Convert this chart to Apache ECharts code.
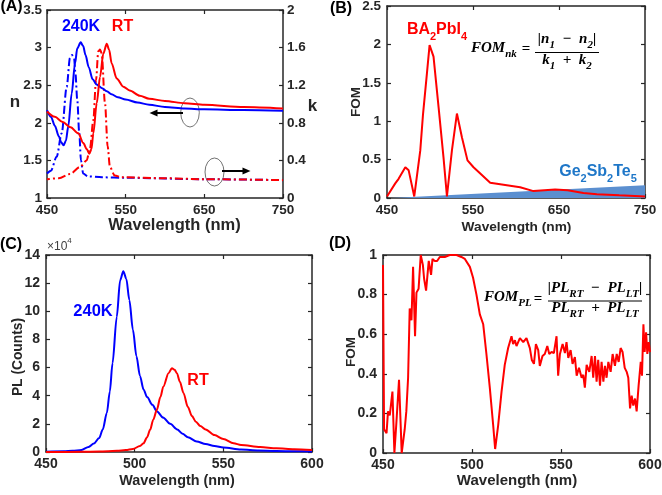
<!DOCTYPE html>
<html><head><meta charset="utf-8">
<script src="https://cdn.jsdelivr.net/npm/echarts@6/dist/echarts.min.js"></script>
<style>html,body{margin:0;padding:0;background:#fff}#c{width:662px;height:495px}</style>
</head><body><div id="c"></div>
<script>
// ---------------- Panel A : n and k ----------------
const aTicksX = [450, 550, 650, 750];
const aTicksN = [1, 1.5, 2, 2.5, 3, 3.5];
const aTicksK = [0, 0.4, 0.8, 1.2, 1.6, 2];
const aWlN240 = [450, 455, 460, 465, 468, 471, 474, 477, 481.4, 485.6, 488.5, 492.8, 496, 499, 503, 508, 513, 520, 526, 532, 540, 550, 565, 580, 600, 625, 650, 700, 750];
const aN240   = [2.17, 2.08, 1.96, 1.82, 1.74, 1.70, 1.76, 1.95, 2.39, 2.79, 2.99, 3.07, 3.02, 2.90, 2.74, 2.58, 2.51, 2.46, 2.42, 2.38, 2.34, 2.31, 2.27, 2.24, 2.21, 2.19, 2.18, 2.17, 2.16];
const aWlNRT  = [450, 460, 470, 480, 489.8, 496.2, 500.5, 503.8, 506.5, 508.9, 513.2, 517.4, 521.6, 525.9, 529, 532.2, 538.6, 547, 555, 568, 580, 600, 625, 650, 700, 750];
const aNRT    = [2.15, 2.08, 2.01, 1.94, 1.86, 1.73, 1.65, 1.59, 1.65, 1.86, 2.26, 2.61, 2.92, 3.05, 2.97, 2.79, 2.59, 2.48, 2.43, 2.36, 2.32, 2.29, 2.26, 2.24, 2.21, 2.19];
const aWlK240 = [450, 455, 462.3, 468.7, 475, 479.2, 481.8, 484.4, 486.1, 488.5, 491, 493.2, 496, 502, 520, 550, 650, 750];
const aK240   = [0.26, 0.29, 0.44, 0.69, 1.18, 1.49, 1.52, 1.49, 1.33, 1.04, 0.69, 0.40, 0.26, 0.23, 0.22, 0.215, 0.20, 0.19];
const aWlKRT  = [450, 465, 479.2, 492, 500.4, 504.7, 508.9, 512.3, 515.2, 517.4, 519.5, 523.7, 527.1, 530, 536, 545, 600, 650, 750];
const aKRT    = [0.20, 0.21, 0.255, 0.33, 0.40, 0.53, 0.83, 1.255, 1.56, 1.58, 1.54, 1.01, 0.55, 0.33, 0.24, 0.22, 0.21, 0.20, 0.19];

// ---------------- Panel B : FOM_nk ----------------
const bTicksX = [450, 550, 650, 750];
const bTicksY = [0, 0.5, 1, 1.5, 2, 2.5];
const bWlBA  = [450, 452, 459.6, 463.5, 471.3, 475.2, 481.7, 488.7, 491.8, 496.4, 499.5, 504.1, 510, 515.7, 519.7, 525.5, 531.3, 537.1, 543.6, 550.6, 570, 604.8, 620.3, 645.5, 660, 678.4, 694, 720, 750];
const bFomBA = [0.02, 0.02, 0.19, 0.25, 0.40, 0.36, 0.02, 0.62, 1.08, 1.62, 1.99, 1.84, 1.18, 0.53, 0.02, 0.62, 1.10, 0.79, 0.49, 0.40, 0.20, 0.14, 0.09, 0.11, 0.10, 0.065, 0.05, 0.035, 0.02];
const bWlGST  = [455, 750];
const bFomGST = [0, 0.165];

// ---------------- Panel C : PL ----------------
const cTicksX = [450, 500, 550, 600];
const cTicksY = [0, 2, 4, 6, 8, 10, 12, 14];
const cWl240 = [450, 460, 465, 470, 474, 477, 480, 482, 484.3, 486, 487.5, 489.9, 491.8, 493.6, 495.3, 497, 499, 501, 503, 505, 507, 510, 512.5, 516, 520, 524, 527, 530, 535, 540, 545, 550, 560, 570, 580, 590, 600];
const cPL240 = [0.02, 0.05, 0.08, 0.15, 0.35, 0.6, 1.0, 1.6, 2.77, 4.3, 6.3, 9.6, 12.2, 12.85, 12.3, 10.8, 8.7, 6.8, 5.4, 4.45, 3.9, 3.35, 2.9, 2.45, 2.0, 1.6, 1.3, 1.05, 0.75, 0.57, 0.43, 0.32, 0.18, 0.11, 0.07, 0.05, 0.04];
const cWlRT = [450, 470, 480, 490, 495, 499, 503, 505, 507, 508.7, 510.5, 512.5, 514.5, 516.2, 519.1, 521, 522.5, 523.8, 525.5, 527.5, 530, 532.3, 534.5, 537, 540, 545, 550, 555.8, 560, 570.8, 580, 590, 600];
const cPLRT = [0.0, 0.01, 0.03, 0.08, 0.14, 0.22, 0.42, 0.62, 1.05, 1.58, 2.3, 3.0, 3.9, 4.66, 5.6, 5.96, 5.85, 5.6, 5.0, 4.2, 3.2, 2.55, 2.15, 1.85, 1.6, 1.2, 0.92, 0.62, 0.5, 0.35, 0.27, 0.2, 0.15];

// ---------------- Panel D : FOM_PL ----------------
const dTicksX = [450, 500, 550, 600];
const dTicksY = [0, 0.2, 0.4, 0.6, 0.8, 1];
const dWl  = [450, 450.6, 452, 452.8, 453.8, 455.3, 456.4, 457.5, 458.2, 459, 460.5, 462.2, 463.1, 464.1, 465, 466, 466.9, 468, 468.8, 470, 471.2, 472.4, 473.1, 474.2, 475.7, 477, 477.8, 479.1, 480.4, 481.9, 484.7, 487.5, 491.3, 494, 496, 498.8, 500.6, 502.5, 504.4, 506.3, 508.1, 510, 511.9, 513, 514.7, 516.6, 518.4, 520.3, 522.2, 523.1, 524.1, 525, 526.9, 528.8, 530.6, 532.5, 533.6, 534.8, 535.9, 537.2, 538.1, 539.6, 540.9, 542.3, 543.4, 544.7, 546, 547.5, 548.4, 549.4, 550.9, 552.2, 553.1, 554.1, 555.4, 556.5, 557.8, 558.8, 560.1, 561.6, 562.5, 563.4, 564.4, 565.9, 567.2, 568.1, 569.1, 570, 570.9, 571.9, 572.8, 573.8, 574.7, 575.6, 576.6, 577.9, 579, 580.3, 581.3, 582.4, 583.5, 584.6, 585.8, 586.9, 587.8, 588.8, 589.7, 590.6, 591.6, 592.5, 593.6, 594.8, 595.5, 596.3, 597, 597.8, 598.5, 599.3, 600];
const dFom = [0.95, 0.12, 0.10, 0.21, 0.19, 0.31, 0.0, 0.15, 0.14, 0.37, 0.0, 0.12, 0.21, 0.38, 0.73, 0.67, 0.94, 0.59, 0.81, 0.83, 1.0, 0.95, 0.88, 0.82, 0.97, 0.90, 0.98, 0.97, 0.97, 0.99, 0.99, 1.0, 1.0, 0.99, 0.98, 0.94, 0.885, 0.80, 0.70, 0.65, 0.50, 0.33, 0.14, 0.02, 0.14, 0.31, 0.445, 0.53, 0.59, 0.55, 0.57, 0.54, 0.58, 0.56, 0.58, 0.53, 0.47, 0.45, 0.55, 0.52, 0.44, 0.49, 0.50, 0.54, 0.50, 0.51, 0.505, 0.59, 0.39, 0.50, 0.55, 0.505, 0.56, 0.48, 0.52, 0.45, 0.485, 0.39, 0.43, 0.38, 0.395, 0.33, 0.445, 0.41, 0.49, 0.38, 0.49, 0.36, 0.47, 0.34, 0.46, 0.36, 0.44, 0.38, 0.46, 0.41, 0.50, 0.44, 0.50, 0.46, 0.53, 0.51, 0.43, 0.41, 0.38, 0.225, 0.29, 0.24, 0.275, 0.21, 0.34, 0.46, 0.39, 0.65, 0.51, 0.61, 0.50, 0.56, 0.51];

// ---------------- helpers ----------------
const zip = (xs, ys) => xs.map((x, i) => [x, ys[i]]);
const AXC = '#262626';
const SANS = 'Liberation Sans, Arial, sans-serif';
const SERIF = 'Liberation Serif, Times New Roman, serif';
const RED = '#ff0000', BLUE = '#0000ff';
const EN = '\u2002';

function axis(gridIndex, ticks, position, showLabel, fs, margin) {
  return {
    type: 'value', gridIndex, position,
    min: ticks[0], max: ticks[ticks.length - 1], interval: ticks[1] - ticks[0],
    axisLine: { show: true, onZero: false, lineStyle: { color: AXC, width: 1.5 } },
    axisTick: { show: true, inside: true, length: 4, lineStyle: { color: AXC, width: 1.2 } },
    axisLabel: { show: showLabel, color: AXC, fontWeight: 'bold', fontSize: fs, fontFamily: SANS, margin: margin, showMinLabel: true, showMaxLabel: true },
    splitLine: { show: false }
  };
}
function line(xi, yi, data, color, opts) {
  return Object.assign({
    type: 'line', xAxisIndex: xi, yAxisIndex: yi, data, symbol: 'none', showSymbol: false,
    lineStyle: { color, width: 2 }, itemStyle: { color }, silent: true
  }, opts || {});
}
// rich text helper: {m|..} main, {s|..} subscript, {b|..}/{p|..} base + superscript
function rich(F, family, weight, fstyle, color, subDrop) {
  const s = Math.round(F * 0.7);
  return {
    m: { fontSize: F, lineHeight: F + 4, fontFamily: family, fontWeight: weight, fontStyle: fstyle, fill: color, color, verticalAlign: 'top' },
    s: { fontSize: s, lineHeight: s, padding: [F + subDrop - s, 0, 0, 0], fontFamily: family, fontWeight: weight, fontStyle: fstyle, fill: color, color, verticalAlign: 'bottom' },
    b: { fontSize: F, lineHeight: F + 4, fontFamily: family, fontWeight: weight, fontStyle: fstyle, fill: color, color, verticalAlign: 'bottom' },
    p: { fontSize: s, lineHeight: s, padding: [0, 0, F + 2 - s, 0], fontFamily: family, fontWeight: weight, fontStyle: fstyle, fill: color, color, verticalAlign: 'top' }
  };
}
function txt(x, y, text, F, color, opts) {
  opts = opts || {};
  const family = opts.family || SANS, weight = opts.weight || 'bold', fstyle = opts.fstyle || 'normal';
  return {
    type: 'text', x, y, rotation: opts.rotation || 0, silent: true,
    style: {
      text, fill: color, fontSize: F, fontFamily: family, fontWeight: weight, fontStyle: fstyle,
      align: opts.align || 'center', verticalAlign: 'middle',
      rich: rich(F, family, weight, fstyle, color, opts.subDrop == null ? 4 : opts.subDrop)
    }
  };
}
function hline(x1, x2, y, w, color) {
  return { type: 'line', silent: true, shape: { x1, y1: y, x2, y2: y }, style: { stroke: color || '#000', lineWidth: w || 1 } };
}
function ellipse(cx, cy, rx, ry) {
  return { type: 'circle', silent: true, x: cx, y: cy, scaleX: rx / ry, shape: { cx: 0, cy: 0, r: ry }, style: { fill: 'none', stroke: '#555', lineWidth: 1, strokeNoScale: true } };
}
function arrowHead(tx, ty, dir) {
  return { type: 'polygon', silent: true, shape: { points: [[tx, ty], [tx - dir * 8, ty - 3.5], [tx - dir * 8, ty + 3.5]] }, style: { fill: '#000' } };
}

const DASHDOT = [8, 3, 2, 3];
const FM = { family: SERIF, fstyle: 'italic', subDrop: 3 };

const option = {
  animation: false,
  backgroundColor: '#fff',
  grid: [
    { left: 47, top: 10, width: 236, height: 188, outerBoundsMode: 'none', containLabel: false },
    { left: 387, top: 6, width: 258, height: 192, outerBoundsMode: 'none', containLabel: false },
    { left: 46, top: 255, width: 266, height: 197, outerBoundsMode: 'none', containLabel: false },
    { left: 383, top: 255, width: 267, height: 198, outerBoundsMode: 'none', containLabel: false }
  ],
  xAxis: [
    axis(0, aTicksX, 'bottom', true, 13.5, 5), axis(0, aTicksX, 'top', false, 13, 5),
    axis(1, bTicksX, 'bottom', true, 13.5, 5), axis(1, bTicksX, 'top', false, 13, 5),
    axis(2, cTicksX, 'bottom', true, 14, 5), axis(2, cTicksX, 'top', false, 13, 5),
    axis(3, dTicksX, 'bottom', true, 14, 5), axis(3, dTicksX, 'top', false, 13, 5)
  ],
  yAxis: [
    axis(0, aTicksN, 'left', true, 13.5, 5), axis(0, aTicksK, 'right', true, 13.5, 4),
    axis(1, bTicksY, 'left', true, 13.5, 6), axis(1, bTicksY, 'right', false, 13, 5),
    axis(2, cTicksY, 'left', true, 14, 6), axis(2, cTicksY, 'right', false, 13, 5),
    axis(3, dTicksY, 'left', true, 14, 6), axis(3, dTicksY, 'right', false, 13, 5)
  ],
  series: [
    // A
    line(0, 1, zip(aWlK240, aK240), BLUE, { smooth: 0.3, smoothMonotone: 'x', lineStyle: { color: BLUE, width: 2, type: DASHDOT } }),
    line(0, 1, zip(aWlKRT, aKRT), RED, { smooth: 0.3, smoothMonotone: 'x', lineStyle: { color: RED, width: 2, type: DASHDOT, dashOffset: 5 } }),
    line(0, 0, zip(aWlN240, aN240), BLUE, { smooth: 0.3, smoothMonotone: 'x' }),
    line(0, 0, zip(aWlNRT, aNRT), RED, { smooth: 0.3, smoothMonotone: 'x' }),
    // B
    line(2, 2, zip(bWlGST, bFomGST), '#5b8fd0', { lineStyle: { width: 0, opacity: 0 }, areaStyle: { color: '#5b8fd0', opacity: 1 }, z: 1 }),
    line(2, 2, zip(bWlBA, bFomBA), RED, { z: 3 }),
    // C
    line(4, 4, zip(cWl240, cPL240), BLUE, { smooth: 0.3, smoothMonotone: 'x' }),
    line(4, 4, zip(cWlRT, cPLRT), RED, { smooth: 0.3, smoothMonotone: 'x' }),
    // D
    line(6, 6, zip(dWl, dFom), RED)
  ],
  graphic: { elements: [
    // panel letters
    txt(11.5, 7, '(A)', 16, '#000'), txt(341, 9, '(B)', 16, '#000'),
    txt(11, 245, '(C)', 16, '#000'), txt(340, 244, '(D)', 16, '#000'),
    // axis titles
    txt(174.5, 225, 'Wavelength (nm)', 16.5, AXC),
    txt(516.5, 227, 'Wavelength (nm)', 13.7, AXC),
    txt(177, 481, 'Wavelength (nm)', 14.4, AXC),
    txt(517, 481, 'Wavelength (nm)', 15, AXC),
    txt(15, 102, 'n', 17, AXC), txt(312.5, 106, 'k', 17, AXC),
    txt(356, 102, 'FOM', 13.5, AXC, { rotation: Math.PI / 2 }),
    txt(18, 357, 'PL (Counts)', 13.8, AXC, { rotation: Math.PI / 2 }),
    txt(351, 352, 'FOM', 13.5, AXC, { rotation: Math.PI / 2 }),
    txt(47, 245, '{b|×10}{p|4}', 12, '#404040', { weight: 'normal', align: 'left' }),
    // annotations A
    txt(81, 27, '240K', 16, BLUE), txt(122.5, 27, 'RT', 16, RED),
    ellipse(190, 112.5, 9.3, 14.5), hline(183, 156, 113, 2), arrowHead(149.5, 113, -1),
    ellipse(214.5, 172, 9.5, 14), hline(222, 243, 171, 2), arrowHead(250.5, 171, 1),
    // annotations B
    txt(437, 32, '{m|BA}{s|2}{m|PbI}{s|4}', 16, RED),
    txt(598, 174, '{m|Ge}{s|2}{m|Sb}{s|2}{m|Te}{s|5}', 16, '#1f77c8'),
    txt(471, 50, '{m|FOM}{s|nk}', 15, '#000', Object.assign({ align: 'left' }, FM)),
    txt(526, 49, '=', 15, '#000', { family: SERIF }),
    txt(567, 41, '{m||n}{s|1}{m|' + EN + '−' + EN + 'n}{s|2}{m||}', 15, '#000', FM),
    hline(535, 599, 52.5, 1),
    txt(567, 62, '{m|k}{s|1}{m|' + EN + '+' + EN + 'k}{s|2}', 15, '#000', FM),
    // annotations D
    txt(93, 311, '240K', 16.5, BLUE), txt(198, 381, 'RT', 16, RED),
    txt(484, 299.5, '{m|FOM}{s|PL}', 15, '#000', Object.assign({ align: 'left' }, FM)),
    txt(538, 299, '=', 15, '#000', { family: SERIF }),
    txt(595, 290, '{m||PL}{s|RT}{m|' + EN + '−' + EN + 'PL}{s|LT}{m||}', 15, '#000', FM),
    hline(548, 642, 301, 1),
    txt(595, 310.5, '{m|PL}{s|RT}{m|' + EN + '+' + EN + 'PL}{s|LT}', 15, '#000', FM)
  ] }
};

const chart = echarts.init(document.getElementById('c'), null, { renderer: 'canvas' });
chart.setOption(option);
</script>
</body></html>
